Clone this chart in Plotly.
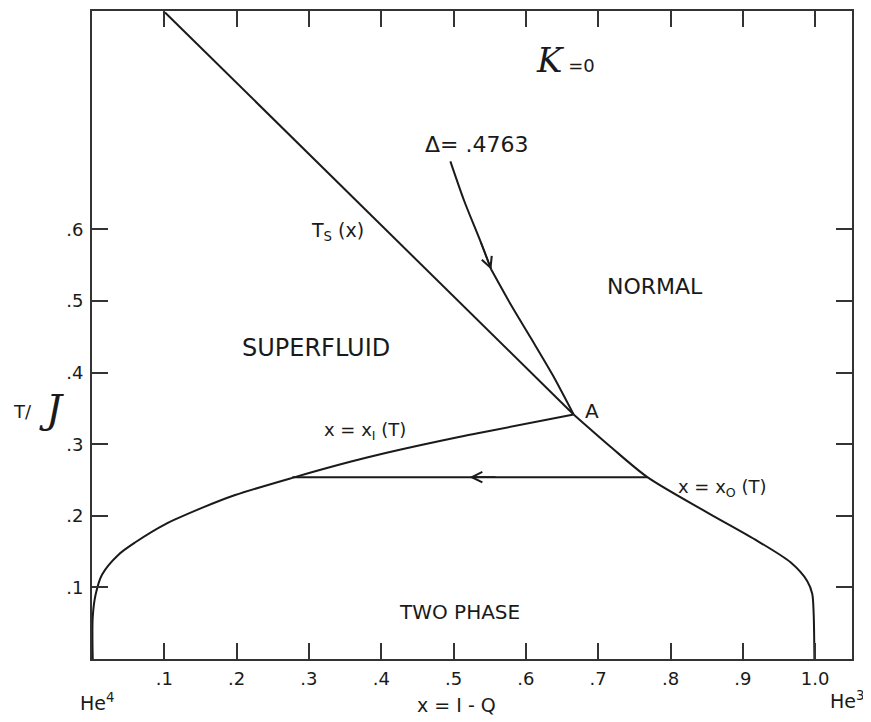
import plotly.graph_objects as go

# ---- data (x = 1 - Q, T/J) ----
ts_x = [0.101, 0.666]
ts_T = [0.903, 0.3415]

delta_x = [0.666, 0.6367, 0.6069, 0.5793, 0.5523]
delta_T = [0.3415, 0.3972, 0.4482, 0.4947, 0.5435]

leader_x = [0.5523, 0.5371, 0.5149, 0.4956]
leader_T = [0.5435, 0.5836, 0.6393, 0.6950]

x0_x = [0.666, 0.717, 0.768, 0.851, 0.920, 0.966, 0.989, 0.996, 0.998, 0.999]
x0_T = [0.3415, 0.2965, 0.254, 0.2045, 0.165, 0.135, 0.109, 0.091, 0.063, 0.0]

x1_x = [0.001, 0.001, 0.005, 0.014, 0.037, 0.060, 0.101, 0.152, 0.198, 0.277,
        0.357, 0.406, 0.509, 0.537, 0.666]
x1_T = [0.0, 0.058, 0.090, 0.118, 0.146, 0.163, 0.188, 0.211, 0.229, 0.253,
        0.2754, 0.2877, 0.3104, 0.316, 0.3415]

tie_x = [0.768, 0.277]
tie_T = [0.254, 0.254]

x_tickvals = [0.1, 0.2, 0.3, 0.4, 0.5, 0.6, 0.7, 0.8, 0.9, 1.0]
x_ticktext = [".1", ".2", ".3", ".4", ".5", ".6", ".7", ".8", ".9", "1.0"]
y_tickvals = [0.1, 0.2, 0.3, 0.4, 0.5, 0.6]
y_ticktext = [".1", ".2", ".3", ".4", ".5", ".6"]

FONT = "DejaVu Sans"
INK = "#1a1a1a"

fig = go.Figure()
for xs, ys in [(ts_x, ts_T), (delta_x, delta_T), (leader_x, leader_T),
               (x0_x, x0_T), (x1_x, x1_T), (tie_x, tie_T)]:
    fig.add_trace(go.Scatter(x=xs, y=ys, mode="lines",
                             line=dict(color=INK, width=2, shape="spline", smoothing=0.8),
                             showlegend=False, hoverinfo="skip"))

ann = []
def txt(x, y, s, size=19, ref="data", family=FONT):
    r = ("x", "y") if ref == "data" else ("paper", "paper")
    ann.append(dict(x=x, y=y, xref=r[0], yref=r[1], text=s, showarrow=False,
                    xanchor="center", yanchor="middle",
                    font=dict(family=family, size=size, color=INK)))

txt(0.655, 0.836, "<span style='font-family:DejaVu Serif;font-size:34px'><i>K</i></span> =0", size=18)
txt(0.532, 0.719, "Δ= .4763", size=22)
txt(0.339, 0.597, "T<sub>S</sub> (x)", size=19)
txt(0.778, 0.520, "NORMAL", size=22)
txt(0.310, 0.434, "SUPERFLUID", size=24)
txt(0.378, 0.318, "x = x<sub>I</sub> (T)", size=18)
txt(0.692, 0.347, "A", size=20)
txt(0.872, 0.239, "x = x<sub>O</sub> (T)", size=18)
txt(0.508, 0.066, "TWO PHASE", size=20)
# outside-plot texts in paper coordinates
txt(0.480, -0.071, "x = I - Q", size=19, ref="paper")
txt(0.007, -0.066, "He<sup>4</sup>", size=19, ref="paper")
txt(0.993, -0.063, "He<sup>3</sup>", size=19, ref="paper")
txt(-0.092, 0.382, "T/", size=18, ref="paper")
txt(-0.053, 0.386, "<i>J</i>", size=40, ref="paper", family="DejaVu Serif")

# arrowheads
ann.append(dict(x=leader_x[0], y=leader_T[0], ax=leader_x[1], ay=leader_T[1],
                xref="x", yref="y", axref="x", ayref="y", text="", showarrow=True,
                arrowhead=5, arrowsize=1.3, arrowwidth=1.6, arrowcolor=INK))
ann.append(dict(x=0.522, y=tie_T[0], ax=0.56, ay=tie_T[0],
                xref="x", yref="y", axref="x", ayref="y", text="", showarrow=True,
                arrowhead=5, arrowsize=1.3, arrowwidth=1.6, arrowcolor=INK))

fig.update_layout(
    width=863, height=714,
    margin=dict(l=84, r=19, t=1, b=63),
    paper_bgcolor="white", plot_bgcolor="white",
    annotations=ann,
    xaxis=dict(range=[0, 1.051], tickvals=x_tickvals, ticktext=x_ticktext,
               showgrid=False, zeroline=False, showline=True, mirror="ticks",
               linecolor="#333", linewidth=2, ticks="inside", ticklen=16,
               tickwidth=2, tickcolor="#333", ticklabelstandoff=2,
               tickfont=dict(family=FONT, size=18, color=INK)),
    yaxis=dict(range=[0, 0.905], tickvals=y_tickvals, ticktext=y_ticktext,
               showgrid=False, zeroline=False, showline=True, mirror="ticks",
               linecolor="#333", linewidth=2, ticks="inside", ticklen=16,
               tickwidth=2, tickcolor="#333", ticklabelstandoff=3,
               tickfont=dict(family=FONT, size=18, color=INK)),
)

fig.write_html("out.html")
